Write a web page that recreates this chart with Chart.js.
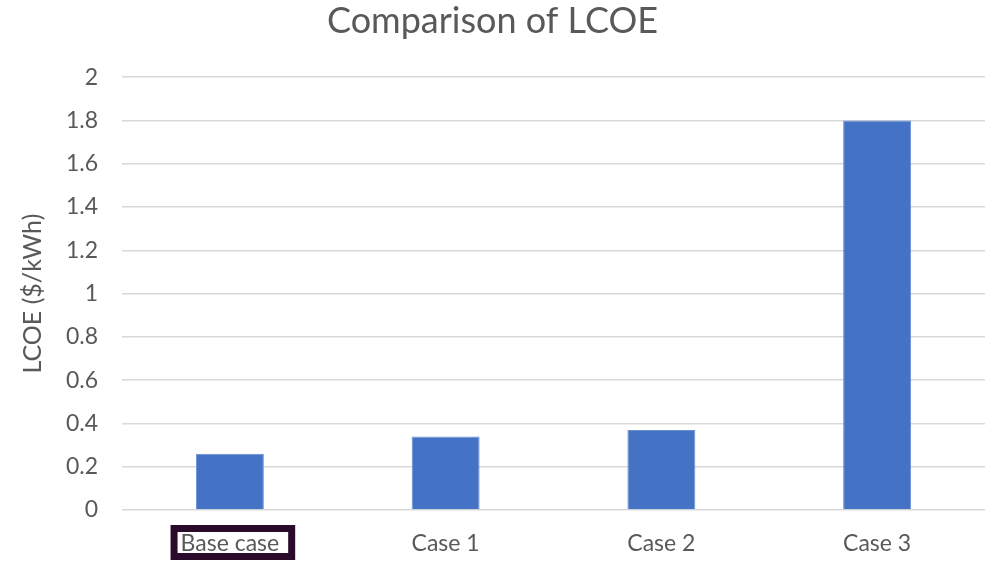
<!DOCTYPE html>
<html>
<head>
<meta charset="utf-8">
<script src="https://cdn.jsdelivr.net/npm/chart.js@4/dist/chart.umd.min.js"></script>
<style>
  html, body { margin: 0; padding: 0; background: #ffffff; }
  #wrap { width: 987px; height: 563px; position: relative; }
</style>
</head>
<body>
<div id="wrap"><canvas id="lcoe"></canvas></div>
<script>
// Levelized cost of energy per scenario
const categories = ['Base case', 'Case 1', 'Case 2', 'Case 3'];
const lcoeValues = [0.26, 0.34, 0.37, 1.8];
const yTicks = [0, 0.2, 0.4, 0.6, 0.8, 1, 1.2, 1.4, 1.6, 1.8, 2];
const highlighted = 'Base case';

const FONT = 'Lato, "Open Sans", sans-serif';
const GREY = '#595959';
const TICK_SIZE = 23;

// Frame drawn around the highlighted category label
const labelFrame = {
  id: 'labelFrame',
  afterDraw(chart) {
    const xs = chart.scales.x;
    const idx = categories.indexOf(highlighted);
    if (idx < 0) return;
    const ctx = chart.ctx;
    const cx = xs.getPixelForTick(idx);
    ctx.save();
    ctx.font = TICK_SIZE + 'px ' + FONT;
    const w = ctx.measureText(highlighted).width;
    const bw = 7;
    const left = cx - w / 2 - 3 - bw / 2;
    const right = cx + w / 2 + 9 + bw / 2;
    const top = 528.5, bottom = 556.5;
    ctx.strokeStyle = '#2b0b2b';
    ctx.lineWidth = bw;
    ctx.strokeRect(left, top, right - left, bottom - top);
    ctx.restore();
  }
};

new Chart(document.getElementById('lcoe'), {
  type: 'bar',
  data: {
    labels: categories,
    datasets: [{
      label: 'LCOE',
      data: lcoeValues,
      backgroundColor: '#4472c4',
      borderColor: '#6a90d4',
      borderWidth: 1,
      categoryPercentage: 1,
      barPercentage: 0.315
    }]
  },
  options: {
    responsive: true,
    maintainAspectRatio: false,
    animation: false,
    devicePixelRatio: 1,
    layout: { padding: { left: 0, right: 2, top: 0, bottom: 0 } },
    plugins: {
      legend: { display: false },
      tooltip: { enabled: false },
      title: {
        display: true,
        text: 'Comparison of LCOE',
        color: GREY,
        font: { family: FONT, size: 36, weight: 'normal' },
        padding: { top: 0, bottom: 34 }
      }
    },
    scales: {
      x: {
        grid: { display: false, drawTicks: false },
        border: { display: false },
        ticks: {
          color: GREY,
          font: { family: FONT, size: TICK_SIZE },
          padding: 20
        },
        afterFit(scale) { scale.height = 53; }
      },
      y: {
        min: 0,
        max: 2,
        afterBuildTicks(scale) {
          scale.ticks = yTicks.map(v => ({ value: v }));
        },
        grid: { color: '#d9d9d9', lineWidth: 1.5, drawTicks: false },
        border: { display: false },
        ticks: {
          color: GREY,
          font: { family: FONT, size: TICK_SIZE },
          padding: 24,
          callback: v => String(v)
        },
        title: {
          display: true,
          text: 'LCOE ($/kWh)',
          color: GREY,
          font: { family: FONT, size: 25 },
          padding: { top: 18, bottom: 0 }
        },
        afterFit(scale) { scale.width = 122; }
      }
    }
  },
  plugins: [labelFrame]
});
</script>
</body>
</html>
